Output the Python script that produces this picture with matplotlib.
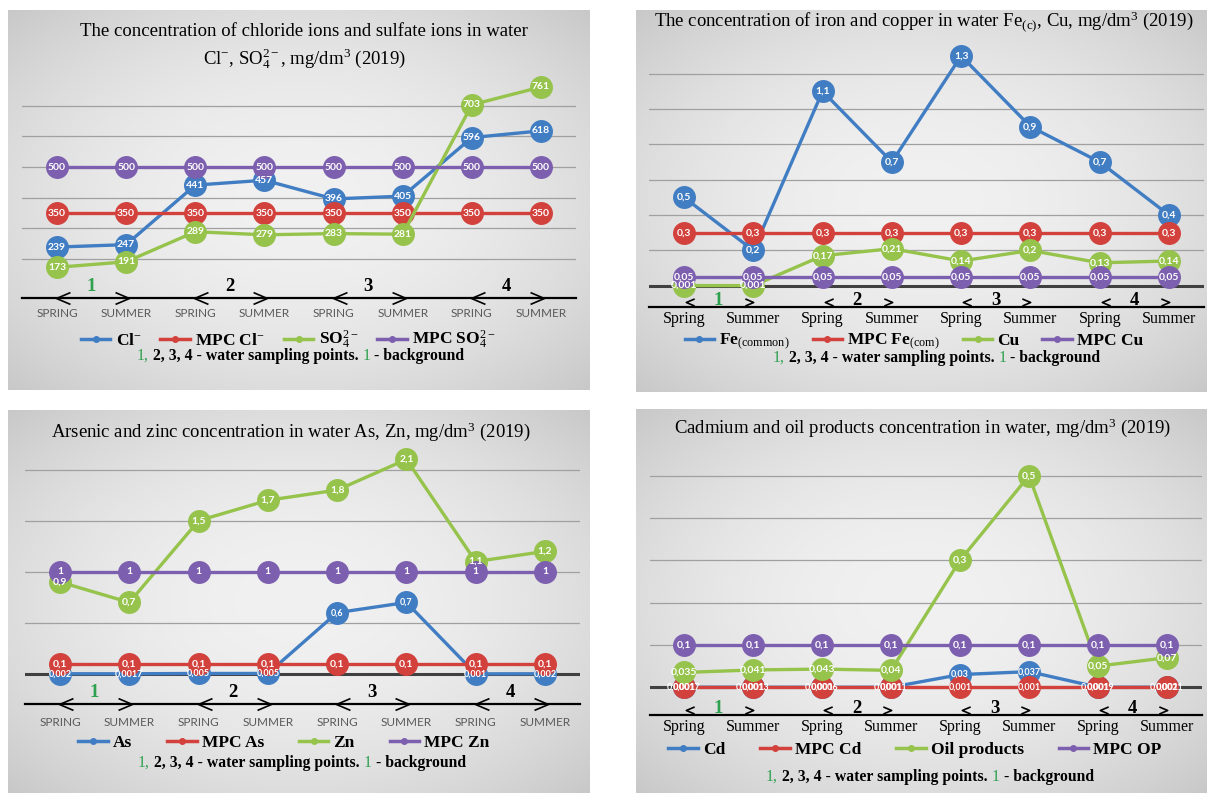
import numpy as np
import matplotlib.pyplot as plt
from matplotlib.lines import Line2D
from matplotlib.path import Path
from matplotlib.transforms import offset_copy

plt.rcParams["mathtext.fontset"] = "custom"
plt.rcParams["mathtext.rm"] = "Liberation Serif"
plt.rcParams["mathtext.it"] = "Liberation Serif:italic"
plt.rcParams["mathtext.bf"] = "Liberation Serif:bold"

W, H = 1207, 796

seasons_caps = ["SPRING", "SUMMER"] * 4
seasons = ["Spring", "Summer"] * 4
points = ["1", "2", "3", "4"]

# chloride and sulfate ions, mg/dm3
cl = [239, 247, 441, 457, 396, 405, 596, 618]
mpc_cl = [350] * 8
so4 = [173, 191, 289, 279, 283, 281, 703, 761]
mpc_so4 = [500] * 8

# iron and copper, mg/dm3
fe = [0.5, 0.2, 1.1, 0.7, 1.3, 0.9, 0.7, 0.4]
mpc_fe = [0.3] * 8
cu = [0.001, 0.001, 0.17, 0.21, 0.14, 0.2, 0.13, 0.14]
mpc_cu = [0.05] * 8

# arsenic and zinc, mg/dm3
as_ = [0.002, 0.0017, 0.005, 0.005, 0.6, 0.7, 0.001, 0.002]
mpc_as = [0.1] * 8
zn = [0.9, 0.7, 1.5, 1.7, 1.8, 2.1, 1.1, 1.2]
mpc_zn = [1] * 8

# cadmium and oil products, mg/dm3
cd = [0.00017, 0.00013, 0.00006, 0.00011, 0.03, 0.037, 0.00019, 0.00021]
mpc_cd = [0.001] * 8
oil = [0.035, 0.041, 0.043, 0.04, 0.3, 0.5, 0.05, 0.07]
mpc_op = [0.1] * 8

BLUE = "#417dc3"
RED = "#d2413c"
GREEN = "#96c34b"
PURPLE = "#7d5faf"
NUM_GREEN = "#2fa14f"
SERIF = "Liberation Serif"
SANS = "Lato"

fig = plt.figure(figsize=(W / 100, H / 100), dpi=100)


def fmt(v):
    return np.format_float_positional(float(v), trim="-").replace(".", ",")


def panel_background(x0, y0, x1, y1):
    bg = fig.add_axes([x0 / W, 1 - y1 / H, (x1 - x0) / W, (y1 - y0) / H])
    yy, xx = np.mgrid[-1:1:200j, -1:1:300j]
    r2 = xx ** 2 + yy ** 2
    shade = 0.945 - 0.08 * r2
    bg.imshow(np.dstack([shade] * 3), aspect="auto", extent=(0, 1, 0, 1))
    bg.set_axis_off()


def plot_area(x0, y0, x1, y1, ylim):
    ax = fig.add_axes([x0 / W, 1 - y1 / H, (x1 - x0) / W, (y1 - y0) / H])
    ax.patch.set_alpha(0)
    ax.set_xlim(-0.5, 7.5)
    ax.set_ylim(*ylim)
    for s in ax.spines.values():
        s.set_visible(False)
    ax.set_yticks([])
    return ax


def draw_series(ax, values, color, fs=7.5):
    x = np.arange(len(values))
    ax.plot(x, values, color=color, lw=2.4, marker="o", ms=15.5,
            mec=color, zorder=3, clip_on=False)
    for xi, v in zip(x, values):
        ax.text(xi, v, fmt(v), ha="center", va="center", color="white",
                fontsize=fs, family=SANS, weight="bold", zorder=10, clip_on=False)


chev_left = Path([(1, 0.85), (-1, 0), (1, -0.85)],
                 [Path.MOVETO, Path.LINETO, Path.LINETO])
chev_right = Path([(-1, 0.85), (1, 0), (-1, -0.85)],
                  [Path.MOVETO, Path.LINETO, Path.LINETO])


def sampling_axis(ax, chev_size, chev_up, num_up):
    ybot = ax.get_ylim()[0]
    ax.axhline(ybot, color="black", lw=1.6, zorder=2, clip_on=False)
    tr = offset_copy(ax.transData, fig=fig, y=chev_up, units="points")
    for i in range(4):
        xs = 2 * i
        ax.plot([xs + 0.09], [ybot], marker=chev_left, ms=chev_size, mfc="none",
                mec="black", mew=1.2, transform=tr, clip_on=False)
        ax.plot([xs + 0.94], [ybot], marker=chev_right, ms=chev_size, mfc="none",
                mec="black", mew=1.2, transform=tr, clip_on=False)
        ax.annotate(points[i], xy=(xs + 0.5, ybot), xytext=(0, num_up),
                    textcoords="offset points", ha="center", va="center",
                    family=SERIF, weight="bold", fontsize=13.5,
                    color=NUM_GREEN if i == 0 else "black")


def legend(ax, labels, colors, cx, cy, colsp=1.3):
    handles = [Line2D([0], [0], color=c, lw=2.5, marker="o", ms=4) for c in colors]
    ax.legend(handles, labels, loc="center", bbox_to_anchor=(cx / W, 1 - cy / H),
              bbox_transform=fig.transFigure, ncol=4, frameon=False,
              prop={"family": SERIF, "weight": "bold", "size": 12.5},
              handlelength=1.7, handletextpad=0.3, columnspacing=colsp,
              borderpad=0, borderaxespad=0)


def footnote(x, y):
    parts = [("1,", NUM_GREEN, "normal"),
             (" 2, 3, 4 - water sampling points. ", "black", "bold"),
             ("1", NUM_GREEN, "normal"),
             (" - background", "black", "bold")]
    prev = None
    for text, color, weight in parts:
        kw = dict(color=color, weight=weight, family=SERIF, fontsize=11.3,
                  va="bottom", ha="left")
        if prev is None:
            prev = fig.text(x / W, 1 - (y + 8) / H, text, **kw)
        else:
            prev = plt.annotate(text, xy=(1, 0), xycoords=prev, **kw)


def title(cx, cy, text):
    fig.text(cx / W, 1 - cy / H, text, ha="center", va="center",
             family=SERIF, fontsize=13.5, linespacing=1.35)


for box in [(8, 10, 590, 390), (636, 10, 1207, 392),
            (8, 410, 590, 793), (636, 409, 1207, 793)]:
    panel_background(*box)

# chloride and sulfate ions
ax1 = plot_area(22.4, 75, 575.6, 298, (73, 800))
for v in [200, 300, 400, 500, 600, 700]:
    ax1.axhline(v, color="#a0a0a0", lw=0.9, zorder=1)
draw_series(ax1, cl, BLUE)
draw_series(ax1, mpc_cl, RED)
draw_series(ax1, so4, GREEN)
draw_series(ax1, mpc_so4, PURPLE)
ax1.set_xticks(range(8), seasons_caps, fontsize=8.5, color="#595959", family=SANS)
ax1.tick_params(axis="x", length=0, pad=7)
sampling_axis(ax1, 10, 0, 8)
title(304, 47, "The concentration of chloride ions and sulfate ions in water\n"
      "Cl$^{-}$, SO$_4^{2-}$, mg/dm$^3$ (2019)")
legend(ax1, ["Cl$^{-}$", "MPC Cl$^{-}$", "SO$_4^{2-}$", "MPC SO$_4^{2-}$"],
       [BLUE, RED, GREEN, PURPLE], 288, 340, colsp=1.1)
footnote(137, 356)

# iron and copper
ax2 = plot_area(649.4, 40, 1203.6, 307, (-0.12, 1.39))
for v in [0.2, 0.4, 0.6, 0.8, 1.0, 1.2]:
    ax2.axhline(v, color="#a0a0a0", lw=0.9, zorder=1)
ax2.axhline(0, color="#404040", lw=2.2, zorder=1.5)
draw_series(ax2, fe, BLUE)
draw_series(ax2, mpc_fe, RED)
draw_series(ax2, cu, GREEN)
draw_series(ax2, mpc_cu, PURPLE)
ax2.set_xticks(range(8), seasons, fontsize=11.5, color="black", family=SERIF)
ax2.tick_params(axis="x", length=0, pad=3)
sampling_axis(ax2, 6, 3.5, 5)
title(924, 22, r"The concentration of iron and copper in water Fe$_{\mathrm{(c)}}$, Cu, "
      "mg/dm$^3$ (2019)")
legend(ax2, [r"Fe$_{\mathrm{(common)}}$", r"MPC Fe$_{\mathrm{(com)}}$", "Cu", "MPC Cu"],
       [BLUE, RED, GREEN, PURPLE], 914, 342)
footnote(773, 358)

# arsenic and zinc
ax3 = plot_area(25.4, 440, 579.6, 704, (-0.294, 2.29))
for v in [0.5, 1.0, 1.5, 2.0]:
    ax3.axhline(v, color="#a0a0a0", lw=0.9, zorder=1)
ax3.axhline(0, color="#404040", lw=2.2, zorder=1.5)
draw_series(ax3, as_, BLUE, 6.5)
draw_series(ax3, mpc_as, RED)
draw_series(ax3, zn, GREEN)
draw_series(ax3, mpc_zn, PURPLE)
ax3.set_xticks(range(8), seasons_caps, fontsize=8.5, color="#595959", family=SANS)
ax3.tick_params(axis="x", length=0, pad=9)
sampling_axis(ax3, 10, 0, 8)
title(291, 432, "Arsenic and zinc concentration in water As, Zn, mg/dm$^3$ (2019)")
legend(ax3, ["As", "MPC As", "Zn", "MPC Zn"],
       [BLUE, RED, GREEN, PURPLE], 284, 743, colsp=2.0)
footnote(138, 763)

# cadmium and oil products
ax4 = plot_area(649.5, 455, 1201.5, 715, (-0.0655, 0.549))
for v in [0.1, 0.2, 0.3, 0.4, 0.5]:
    ax4.axhline(v, color="#a0a0a0", lw=0.9, zorder=1)
ax4.axhline(0, color="#404040", lw=2.2, zorder=1.5)
draw_series(ax4, cd, BLUE, 6.5)
draw_series(ax4, mpc_cd, RED, 6.5)
draw_series(ax4, oil, GREEN)
draw_series(ax4, mpc_op, PURPLE)
ax4.set_xticks(range(8), seasons, fontsize=11.5, color="black", family=SERIF)
ax4.tick_params(axis="x", length=0, pad=3)
sampling_axis(ax4, 6, 3.5, 5)
title(923, 428, "Cadmium and oil products concentration in water, mg/dm$^3$ (2019)")
legend(ax4, ["Cd", "MPC Cd", "Oil products", "MPC OP"],
       [BLUE, RED, GREEN, PURPLE], 915, 750, colsp=2.0)
footnote(766, 777)

fig.savefig("out.png", dpi=100)
